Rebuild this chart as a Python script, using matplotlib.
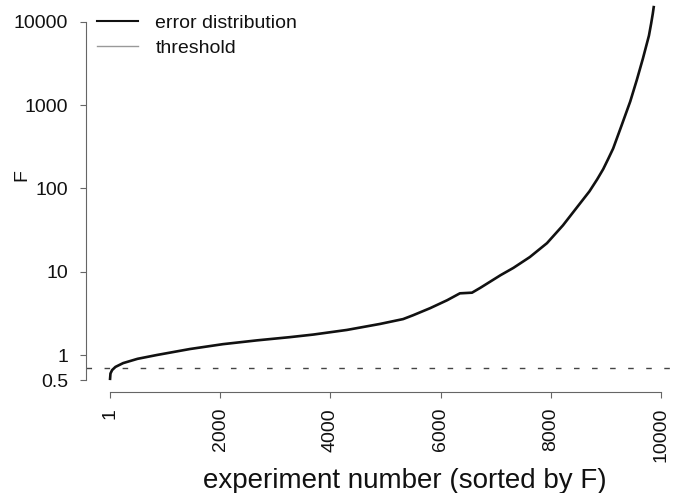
import matplotlib.pyplot as plt
from matplotlib.lines import Line2D

plt.rcParams['font.family'] = ['Liberation Sans', 'DejaVu Sans']

# sorted F value per experiment (read at selected experiment numbers)
exp_num = [1, 10, 40, 100, 240, 500, 850, 1450, 2050, 2670, 3270, 3690,
           4300, 4900, 5320, 5500, 5810, 6120, 6350, 6570, 6720, 7090,
           7320, 7620, 7930, 8220, 8530, 8700, 8840, 8950, 9040, 9130,
           9280, 9440, 9560, 9670, 9780, 9820, 9850, 9870]
f_values = [0.50, 0.60, 0.66, 0.72, 0.80, 0.90, 1.00, 1.18, 1.35, 1.50, 1.64, 1.76,
            2.00, 2.36, 2.70, 3.0, 3.65, 4.55, 5.5, 5.6, 6.4, 9.1,
            11.1, 15.0, 22, 36, 66, 92, 128, 170, 225, 300,
            560, 1100, 2000, 3600, 6800, 9500, 12500, 15500]
threshold = 0.7

xticks = [1, 2000, 4000, 6000, 8000, 10000]
yticks = [0.5, 1, 10, 100, 1000, 10000]

fig = plt.figure(figsize=(6.77, 4.93), dpi=100)
ax = fig.add_axes([86 / 677, 1 - 392 / 493, 597 / 677, 402 / 493])

ax.plot(exp_num, f_values, color='#111111', lw=1.9, solid_capstyle='butt')
ax.axhline(threshold, color='#444444', lw=1.0, dashes=(4, 9))

ax.set_yscale('log')
ax.set_xlim(-434, 10398)
ax.set_ylim(0.36, 24000)

for side in ['top', 'right']:
    ax.spines[side].set_visible(False)
ax.spines['left'].set_bounds(0.5, 10000)
ax.spines['bottom'].set_bounds(1, 10000)
for side in ['left', 'bottom']:
    ax.spines[side].set_color('#666666')
    ax.spines[side].set_linewidth(0.8)

ax.set_xticks(xticks)
ax.set_xticklabels([str(t) for t in xticks], rotation=90)
ax.set_yticks(yticks)
ax.set_yticklabels([('%g' % t) for t in yticks])
ax.minorticks_off()
ax.tick_params(direction='out', length=4, width=0.8, color='#666666',
               labelsize=14, labelcolor='#111111')
ax.tick_params(axis='x', pad=7.5)
ax.tick_params(axis='y', pad=9)

fig.text(405 / 677, 1 - 488 / 493, 'experiment number (sorted by F)',
         ha='center', va='baseline', fontsize=20, color='#111111')
fig.text(22 / 677, 1 - 175 / 493, 'F', rotation=90,
         ha='center', va='center', fontsize=14, color='#111111')

handles = [Line2D([], [], color='#111111', lw=1.5),
           Line2D([], [], color='#999999', lw=1.0)]
fig.legend(handles, ['error distribution', 'threshold'], loc='upper left',
           bbox_to_anchor=(97 / 677, 1 - 14 / 493), frameon=False,
           borderpad=0, borderaxespad=0, handlelength=2.1,
           handletextpad=0.9, labelspacing=0.4, fontsize=14,
           labelcolor='#111111')

fig.savefig('out.png', dpi=100)
